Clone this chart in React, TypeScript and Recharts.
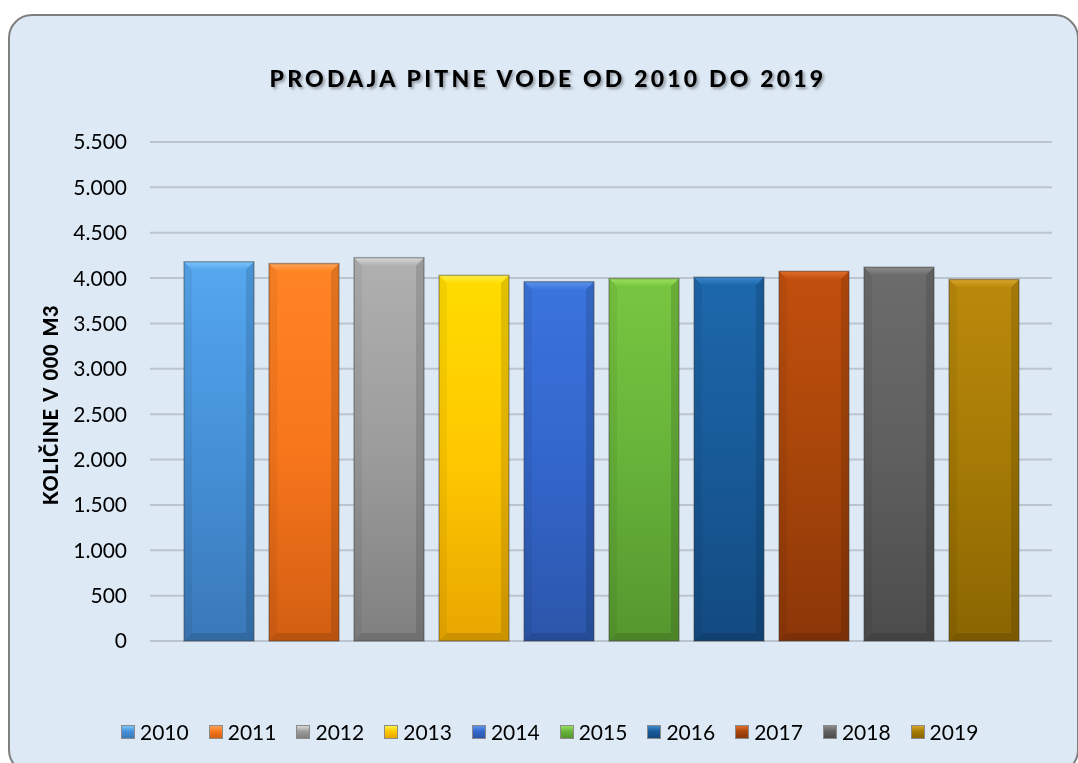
import React from 'react';
import { BarChart, Bar, XAxis, YAxis, CartesianGrid, Label } from 'recharts';

const years = ['2010', '2011', '2012', '2013', '2014', '2015', '2016', '2017', '2018', '2019'];
const values = [4180, 4160, 4225, 4030, 3960, 3995, 4010, 4075, 4120, 3985];
const yTicks = [0, 500, 1000, 1500, 2000, 2500, 3000, 3500, 4000, 4500, 5000, 5500];
const topColors = ['#55a7ee', '#ff8424', '#b0b0b0', '#ffdc00', '#3a74dc', '#78c640', '#1d68ac', '#c24f0e', '#6c6c6c', '#bb8a0c'];
const midColors = ['#4591d8', '#f7761c', '#9c9c9c', '#ffc800', '#3366cc', '#66b33a', '#185a98', '#a8460a', '#5f5f5f', '#a57a05'];
const botColors = ['#3a78b8', '#d25e12', '#808080', '#e8a600', '#2b56aa', '#56962e', '#124a80', '#8c3608', '#4c4c4c', '#8a6502'];
const hiColors = ['#7cc4fa', '#ffa55a', '#d8d8d8', '#fff04a', '#5c92ec', '#9ae05e', '#3c88cc', '#e26e2a', '#8c8c8c', '#d8a62a'];

const data = [
  years.reduce((acc: any, y, i) => {
    acc['y' + y] = values[i];
    return acc;
  }, { name: 'Prodaja' }),
];

const FONT = 'Lato, "Open Sans", sans-serif';

const fmt = (v: number) => v.toString().replace(/\B(?=(\d{3})+(?!\d))/g, '.');

function BevelBar(props: any) {
  const { x, y, width, height, idx } = props;
  if (!height || height <= 0) return null;
  const b = 8;
  const w = width;
  const h = height;
  return (
    <g>
      <rect x={x} y={y} width={w} height={h} fill={`url(#gm${idx})`} />
      <polygon points={`${x},${y} ${x + w},${y} ${x + w - b},${y + b} ${x + b},${y + b}`} fill={`url(#gh${idx})`} />
      <polygon points={`${x},${y} ${x + b},${y + b} ${x + b},${y + h - b} ${x},${y + h}`} fill="rgba(0,0,0,0.05)" />
      <polygon points={`${x + w},${y} ${x + w - b},${y + b} ${x + w - b},${y + h - b} ${x + w},${y + h}`} fill="rgba(0,0,0,0.12)" />
      <polygon points={`${x},${y + h} ${x + b},${y + h - b} ${x + w - b},${y + h - b} ${x + w},${y + h}`} fill="rgba(0,0,0,0.12)" />
      <rect x={x} y={y} width={w} height={h} fill="none" stroke="rgba(60,60,60,0.4)" strokeWidth={1.5} />
    </g>
  );
}

export default function App() {
  return (
    <div
      style={{
        position: 'fixed',
        left: 8,
        top: 14,
        width: 1071,
        height: 760,
        border: '2px solid #7f7f7f',
        borderRadius: 24,
        background: '#dde9f5',
        overflow: 'hidden',
        boxSizing: 'border-box',
      }}
    >
      <div style={{ position: 'absolute', left: -10, top: -16, width: 1078, height: 763 }}>
        <div
          style={{
            position: 'absolute',
            left: 0,
            width: 1096,
            top: 64,
            textAlign: 'center',
            fontFamily: FONT,
            fontWeight: 900,
            fontSize: 23,
            letterSpacing: 3.2,
            color: '#000',
            textShadow: '2px 2px 3px rgba(0,0,0,0.35)',
          }}
        >
          PRODAJA PITNE VODE OD 2010 DO 2019
        </div>
        <BarChart
          width={1078}
          height={763}
          data={data}
          margin={{ top: 142, right: 26, bottom: 122, left: 0 }}
          barSize={70}
          barGap={15}
        >
          <defs>
            {years.map((y, i) => (
              <linearGradient key={'gm' + y} id={`gm${i}`} x1="0" y1="0" x2="0" y2="1">
                <stop offset="0%" stopColor={topColors[i]} />
                <stop offset="50%" stopColor={midColors[i]} />
                <stop offset="100%" stopColor={botColors[i]} />
              </linearGradient>
            ))}
            {years.map((y, i) => (
              <linearGradient key={'gh' + y} id={`gh${i}`} x1="0" y1="0" x2="0" y2="1">
                <stop offset="0%" stopColor={hiColors[i]} />
                <stop offset="100%" stopColor={topColors[i]} />
              </linearGradient>
            ))}
          </defs>
          <CartesianGrid vertical={false} stroke="#bcc4cd" strokeWidth={2} />
          <XAxis dataKey="name" hide />
          <YAxis
            width={150}
            domain={[0, 5500]}
            ticks={yTicks}
            interval={0}
            axisLine={false}
            tickLine={false}
            tickSize={0}
            tickMargin={23}
            tickFormatter={fmt}
            tick={{ fill: '#000', fontSize: 21, fontFamily: FONT }}
          >
            <Label
              content={() => (
                <text
                  x={0}
                  y={0}
                  transform="translate(58,405) rotate(-90)"
                  textAnchor="middle"
                  fontFamily={FONT}
                  fontWeight={900}
                  fontSize={20}
                  letterSpacing={0.6}
                  wordSpacing={2}
                  fill="#000"
                >
                  KOLIČINE V 000 M3
                </text>
              )}
            />
          </YAxis>
          {years.map((y, i) => (
            <Bar
              key={y}
              dataKey={'y' + y}
              name={y}
              isAnimationActive={false}
              shape={(p: any) => <BevelBar {...p} idx={i} />}
            />
          ))}
        </BarChart>
        <div
          style={{
            position: 'absolute',
            left: 121,
            top: 719,
            height: 26,
            display: 'flex',
            alignItems: 'center',
            fontFamily: FONT,
            fontSize: 21,
            color: '#000',
          }}
        >
          {years.map((y, i) => (
            <div key={y} style={{ display: 'flex', alignItems: 'center', marginRight: 20 }}>
              <div
                style={{
                  width: 14,
                  height: 14,
                  boxSizing: 'border-box',
                  border: '1px solid #8a8a8a',
                  background: `linear-gradient(180deg, ${hiColors[i]} 0%, ${midColors[i]} 45%, ${botColors[i]} 100%)`,
                  marginRight: 5,
                }}
              />
              <span style={{ lineHeight: '26px' }}>{y}</span>
            </div>
          ))}
        </div>
      </div>
    </div>
  );
}
